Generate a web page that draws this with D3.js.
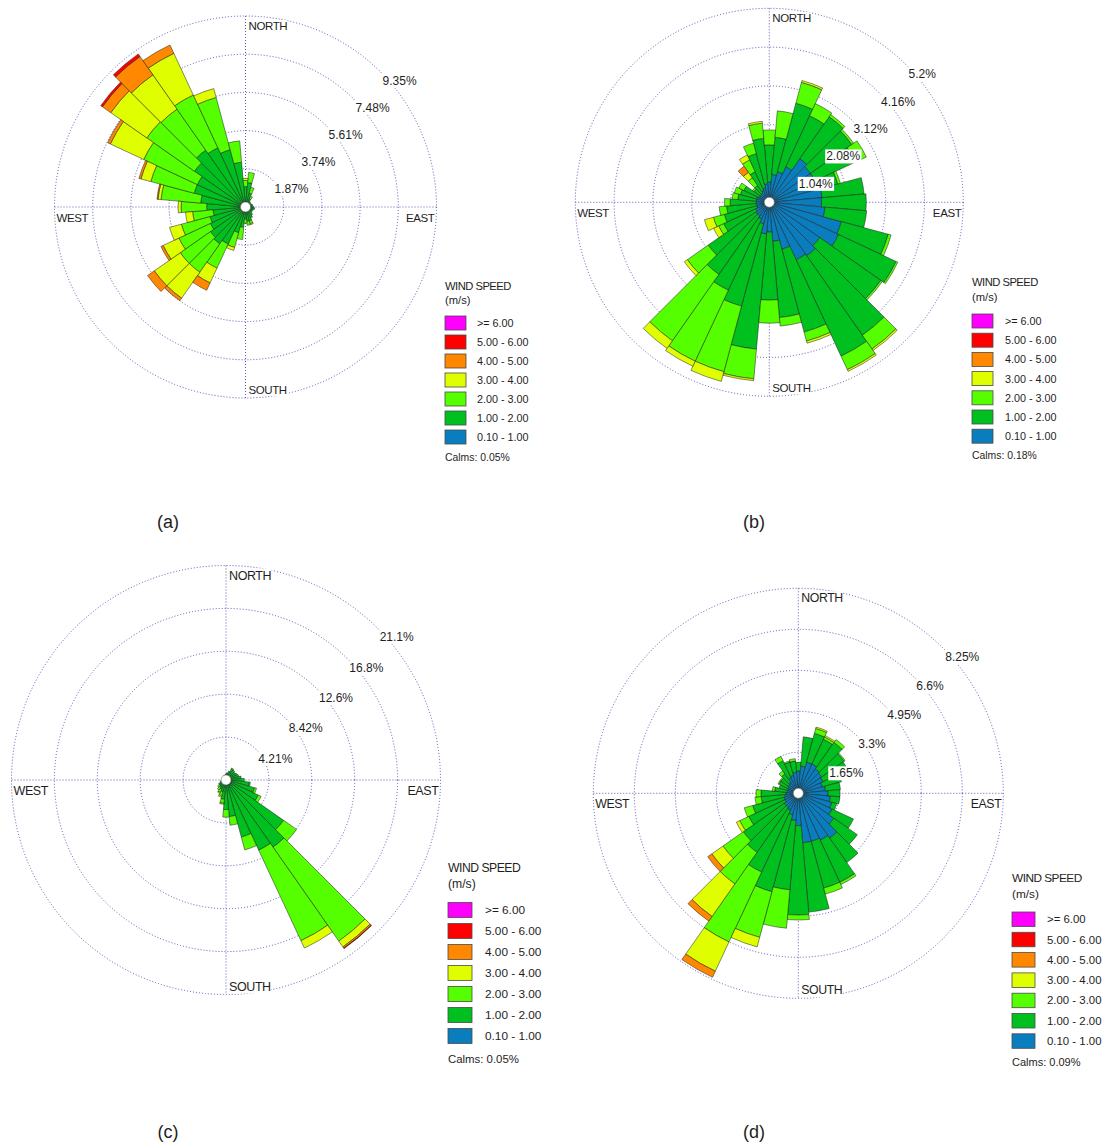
<!DOCTYPE html>
<html>
<head>
<meta charset="utf-8"/>
<title>Wind roses (a)-(d)</title>
<style type="text/css">
    body, html {margin:0;padding:0;background:#fff;overflow:hidden;}
    svg {display:block;font-family:"Liberation Sans", Arial, sans-serif;}
</style>
<script src="https://cdn.jsdelivr.net/npm/d3@7/dist/d3.min.js"></script>
</head>
<body>
<svg id="chart" width="1107" height="1146"></svg>
<script>
// direction sectors, degrees clockwise from north (10 deg bins)
var directions = [0,10,20,30,40,50,60,70,80,90,100,110,120,130,140,150,160,170,
                  180,190,200,210,220,230,240,250,260,270,280,290,300,310,320,330,340,350];

// legend, top to bottom
var speedLabels = [">= 6.00","5.00 - 6.00","4.00 - 5.00","3.00 - 4.00","2.00 - 3.00","1.00 - 2.00","0.10 - 1.00"];
var speedColors = ["#ff00ff","#ff0000","#ff8800","#dfff00","#55ff00","#00c020","#0a7dbf"];

// frequencies (%) per speed class
// (a)
var aBlue   = [.25,.25,.2,.2,.2,.15,.15,.15,.15,.15,.2,.2,.15,.15,.2,.2,.2,.2,.2,.25,.25,.25,.25,.25,.25,.25,.25,.25,.25,.25,.25,.25,.25,.25,.25,.25];
var aGreen  = [.75,.95,.5,.25,.15,.15,.15,.2,.2,.25,.25,.2,.2,.25,.3,.4,.5,.5,.4,.75,1.05,1.75,1.95,1.85,1.65,1.55,1.35,1.65,1.95,2.35,2.35,2.8,3.15,2.95,2.65,1.95];
var aLime   = [.3,.5,.3,.15,0,0,0,0,0,0,0,0,0,0,0,0,.15,.2,.2,.6,.75,1.3,1.7,1.8,1.7,1.45,1.0,1.25,1.95,2.2,2.9,2.85,2.45,2.85,2.65,1.05];
var aYellow = [.1,0,0,0,0,0,0,0,0,0,0,0,0,0,0,0,.05,0,0,0,.15,.8,1.55,1.55,.85,.6,.35,.15,.15,.5,1.8,2.15,2.05,2.25,.45,0];
var aOrange = [0,0,0,0,0,0,0,0,0,0,0,0,0,0,0,0,0,0,0,0,0,.4,.15,.4,.12,0,0,0,.05,.1,.15,.5,1.1,.45,0,0];
var aRed    = [0,0,0,0,0,0,0,0,0,0,0,0,0,0,0,0,0,0,0,0,0,0,0,0,0,0,0,0,0,0,0,.1,.15,0,0,0];
// (b)
var bBlue   = [.55,.75,.85,1.05,1.43,1.35,1.35,1.45,1.42,1.4,1.5,2.0,2.05,1.65,1.75,1.7,1.3,1.05,.8,.85,.6,.5,.45,.45,.4,.35,.35,.35,.35,.35,.3,.3,.3,.35,.4,.5];
var bGreen  = [.99,1.0,1.9,1.51,1.37,1.35,1.2,.45,1.13,1.2,1.12,1.3,1.7,2.0,2.6,2.85,2.3,2.05,1.82,3.1,2.28,2.1,1.91,1.55,.95,.9,.8,.7,.5,.45,.45,.2,.25,.55,.95,1.22];
var bLime   = [.4,.71,.58,.36,.07,.06,.32,.07,0,0,0,.08,.05,.05,.45,.4,.25,.23,.62,.8,1.82,2.1,2.17,.68,.15,.3,.2,.15,.15,.17,.15,.05,.25,.35,.29,.41];
var bYellow = [0,0,.05,0,0,0,0,0,0,0,0,0,0,0,.05,.05,.06,0,0,.05,.27,.15,.25,.1,.15,.25,0,0,0,0,0,0,.18,.15,0,.05];
var bOrange = [0,0,0,0,0,0,0,0,0,0,0,0,0,0,0,0,0,0,0,0,0,0,0,0,0,0,0,0,0,0,0,0,.2,0,0,0];
// (c)
var cBlue   = [.3,.3,.35,.4,.4,.4,.4,.45,.5,.5,.5,.55,.55,.6,.6,.6,.55,.5,.5,.45,.4,.4,.35,.35,.3,.3,.3,.25,.25,.25,.25,.25,.25,.25,.25,.25];
var cGreen  = [.3,.4,.55,.8,.8,.7,.8,.85,1.0,1.3,1.8,2.35,2.95,6.3,7.45,7.0,5.25,3.1,2.4,1.45,.8,.6,.55,.45,.4,.3,.2,.2,.15,.15,.15,.15,.15,.2,.25,.25];
var cLime   = [0,0,0,.1,0,0,0,0,0,0,.1,.2,.3,1.55,11.25,9.8,1.3,.85,.75,.4,.4,.35,.3,.2,.1,0,0,0,0,0,0,0,0,0,0,0];
var cYellow = [0,0,0,0,0,0,0,0,0,0,0,0,0,0,.7,.8,0,0,0,.1,.15,.1,0,0,0,0,0,0,0,0,0,0,0,0,0,0];
var cOrange = [0,0,0,0,0,0,0,0,0,0,0,0,0,0,.15,0,0,0,0,0,0,0,0,0,0,0,0,0,0,0,0,0,0,0,0,0];
var cRed    = [0,0,0,0,0,0,0,0,0,0,0,0,0,0,.05,0,0,0,0,0,0,0,0,0,0,0,0,0,0,0,0,0,0,0,0,0];
// (d)
var dBlue   = [.9,1.1,1.3,1.3,1.2,1.15,1.1,1.0,1.1,1.2,1.3,1.4,1.5,1.75,2.2,2.08,2.0,2.0,1.3,1.1,.9,.75,.7,.7,.6,.6,.55,.5,.45,.45,.45,.5,.55,.7,.75,.85];
var dGreen  = [.35,1.18,1.2,1.1,1.3,1.1,1.1,.8,.6,.48,.38,.2,.95,1.15,1.2,1.87,1.95,2.8,3.6,2.8,3.2,2.75,2.2,2.0,1.6,1.3,.95,1.0,.5,.35,.4,.35,.4,.75,.55,.45];
var dLime   = [0,0,.2,.1,.14,.05,0,0,0,0,0,0,0,0,0,.1,.25,0,.2,1.55,1.9,3.1,1.55,1.0,.4,.35,.25,.2,.1,0,.05,.05,.15,.19,.05,.1];
var dYellow = [0,0,.06,.06,0,0,0,0,0,0,0,0,0,0,0,0,0,0,0,0,.4,1.3,1.6,.55,.15,0,0,0,0,0,0,0,0,0,0,0];
var dOrange = [0,0,0,0,0,0,0,0,0,0,0,0,0,0,0,0,0,0,0,0,0,.27,.23,.2,0,0,0,0,0,0,0,0,0,0,0,0];

// rings and their labels
var ringsA = [1.87,3.74,5.61,7.48,9.35];
var ringsB = [1.04,2.08,3.12,4.16,5.2];
var ringsC = [4.21,8.42,12.63,16.84,21.05];
var ringsD = [1.65,3.3,4.95,6.6,8.25];
var ringTextA = ["1.87%","3.74%","5.61%","7.48%","9.35%"];
var ringTextB = ["1.04%","2.08%","3.12%","4.16%","5.2%"];
var ringTextC = ["4.21%","8.42%","12.6%","16.8%","21.1%"];
var ringTextD = ["1.65%","3.3%","4.95%","6.6%","8.25%"];
var calms = ["0.05%","0.18%","0.05%","0.09%"];
var captions = ["(a)","(b)","(c)","(d)"];

var panels = [
    {series:[aBlue,aGreen,aLime,aYellow,aOrange,aRed], rings:ringsA, ringText:ringTextA,
     cx:245.5, cy:207, R:191, fs:11.5,
     leg:{x:445, title:289.5, unit:303.5, top:316, step:19, w:21, h:14, tx:477, calm:461, fs:10.8},
     cap:[168,528]},
    {series:[bBlue,bGreen,bLime,bYellow,bOrange], rings:ringsB, ringText:ringTextB,
     cx:769.3, cy:202.3, R:194, fs:11.5,
     leg:{x:972, title:286, unit:300.5, top:314, step:19.2, w:21, h:14, tx:1005, calm:459, fs:10.8},
     cap:[754,528]},
    {series:[cBlue,cGreen,cLime,cYellow,cOrange,cRed], rings:ringsC, ringText:ringTextC,
     cx:226, cy:780, R:214.5, fs:12.5,
     leg:{x:448, title:872, unit:888, top:902.5, step:21, w:24, h:15, tx:485, calm:1062.5, fs:11.8},
     cap:[168,1138]},
    {series:[dBlue,dGreen,dLime,dYellow,dOrange], rings:ringsD, ringText:ringTextD,
     cx:798.3, cy:793.3, R:205, fs:12.3,
     leg:{x:1012, title:882, unit:897.5, top:912, step:20.3, w:23, h:14.5, tx:1047, calm:1065.5, fs:11.4},
     cap:[754,1138]}
];

var svg = d3.select("#chart");
svg.append("rect").attr("width",1107).attr("height",1146).attr("fill","#fff");

var gridColor = "#3535a8";
var textColor = "#1e1e1e";
var rad = Math.PI / 180;

// put a white box behind a text node
function backBox(sel, pad) {
    sel.each(function () {
        var b = this.getBBox();
        d3.select(this.parentNode).insert("rect", function () { return this; }.bind(this))
            .attr("x", b.x - pad).attr("y", b.y).attr("width", b.width + 2 * pad).attr("height", b.height)
            .attr("fill", "#fff");
    });
}

panels.forEach(function (p, pi) {
    var g = svg.append("g").attr("transform", "translate(" + p.cx + "," + p.cy + ")");
    var r = d3.scaleLinear().domain([0, p.rings[p.rings.length - 1]]).range([0, p.R]);

    // grid
    g.selectAll("circle.ring").data(p.rings).enter().append("circle")
        .attr("class", "ring").attr("r", function (d) { return r(d); })
        .attr("fill", "none").attr("stroke", gridColor).attr("stroke-width", 0.9)
        .attr("stroke-dasharray", "1,2").attr("opacity", 0.9);
    g.append("line").attr("x1", -p.R).attr("x2", p.R).attr("y1", 0).attr("y2", 0)
        .attr("stroke", gridColor).attr("stroke-width", 0.9).attr("stroke-dasharray", "1,2").attr("opacity", 0.9);
    g.append("line").attr("y1", -p.R).attr("y2", p.R).attr("x1", 0).attr("x2", 0)
        .attr("stroke", gridColor).attr("stroke-width", 0.9).attr("stroke-dasharray", "1,2").attr("opacity", 0.9);

    // stacked sectors
    var keys = p.series.map(function (s, k) { return "k" + k; });
    var rows = directions.map(function (dir, i) {
        var row = {dir: dir};
        p.series.forEach(function (s, k) { row["k" + k] = s[i]; });
        return row;
    });
    var layers = d3.stack().keys(keys)(rows);
    var arc = d3.arc()
        .innerRadius(function (d) { return r(d[0]); })
        .outerRadius(function (d) { return r(d[1]); })
        .startAngle(function (d) { return (d.data.dir - 5) * rad; })
        .endAngle(function (d) { return (d.data.dir + 5) * rad; });

    g.selectAll("g.layer").data(layers).enter().append("g")
        .attr("class", "layer")
        .attr("fill", function (d, k) { return speedColors[6 - k]; })
        .selectAll("path").data(function (d) { return d.filter(function (s) { return s[1] - s[0] > 0; }); })
        .enter().append("path")
        .attr("d", arc)
        .attr("stroke", "#1a1a1a").attr("stroke-width", 0.5);

    g.append("circle").attr("r", 5).attr("fill", "#fff").attr("stroke", "#777").attr("stroke-width", 0.6);

    // compass labels
    var card = [
        {t: "NORTH", x: 3, y: -p.R + 14, a: "start"},
        {t: "SOUTH", x: 3, y: p.R - 4, a: "start"},
        {t: "WEST", x: -p.R + 2, y: 15, a: "start"},
        {t: "EAST", x: p.R - 2, y: 15, a: "end"}
    ];
    var ct = g.selectAll("text.card").data(card).enter().append("text")
        .attr("class", "card")
        .attr("x", function (d) { return d.x; }).attr("y", function (d) { return d.y; })
        .attr("text-anchor", function (d) { return d.a; })
        .attr("font-size", p.fs).attr("letter-spacing", -0.4).attr("fill", textColor)
        .text(function (d) { return d.t; });
    backBox(ct, 0);

    // ring value labels along the NE diagonal
    var rt = g.selectAll("text.rlab").data(p.rings).enter().append("text")
        .attr("class", "rlab")
        .attr("x", function (d) { return r(d) * Math.SQRT1_2 + 2; })
        .attr("y", function (d) { return -r(d) * Math.SQRT1_2 + 13; })
        .attr("font-size", 12).attr("fill", textColor)
        .text(function (d, i) { return p.ringText[i]; });
    backBox(rt, 1);

    // legend
    var L = p.leg;
    var lg = svg.append("g");
    lg.append("text").attr("x", L.x).attr("y", L.title).attr("font-size", L.fs + 0.4)
        .attr("letter-spacing", -0.5).attr("fill", textColor).text("WIND SPEED");
    lg.append("text").attr("x", L.x).attr("y", L.unit).attr("font-size", L.fs + 0.4)
        .attr("fill", textColor).text("(m/s)");
    lg.selectAll("rect.key").data(speedLabels).enter().append("rect")
        .attr("class", "key")
        .attr("x", L.x).attr("y", function (d, i) { return L.top + i * L.step; })
        .attr("width", L.w).attr("height", L.h)
        .attr("fill", function (d, i) { return speedColors[i]; })
        .attr("stroke", "#4a4a4a").attr("stroke-width", 0.8);
    lg.selectAll("text.key").data(speedLabels).enter().append("text")
        .attr("class", "key")
        .attr("x", L.tx).attr("y", function (d, i) { return L.top + i * L.step + L.h / 2 + 4; })
        .attr("font-size", L.fs).attr("fill", textColor)
        .text(function (d) { return d; });
    lg.append("text").attr("x", L.x).attr("y", L.calm).attr("font-size", L.fs - 0.4)
        .attr("fill", textColor).text("Calms: " + calms[pi]);

    svg.append("text").attr("x", p.cap[0]).attr("y", p.cap[1]).attr("text-anchor", "middle")
        .attr("font-size", 18).attr("fill", textColor).text(captions[pi]);
});
</script>
</body>
</html>
